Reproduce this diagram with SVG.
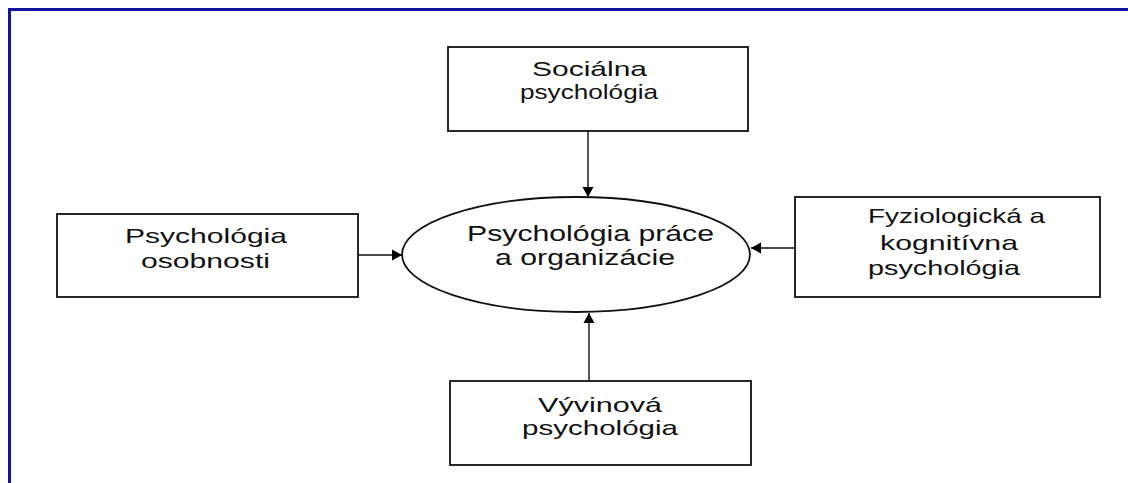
<svg xmlns="http://www.w3.org/2000/svg" width="1128" height="483" viewBox="0 0 1128 483">
<defs>
<marker id="ah" viewBox="0 0 10 14" refX="10" refY="7" markerWidth="10" markerHeight="14" markerUnits="userSpaceOnUse" orient="auto">
<path d="M0,1.5 L10,7 L0,12.5 Z" fill="#000"/>
</marker>
</defs>
<style>
.box{fill:#fff;stroke:#111;stroke-width:1.8}
.lbl{font-family:"Liberation Sans",Arial,sans-serif;font-size:21px;fill:#111}
.big{font-size:22px}
.con{stroke:#111;stroke-width:1.4;fill:none;marker-end:url(#ah)}
</style>
<rect width="1128" height="483" fill="#fff"/>
<g id="frame">
<path d="M9.5,483 V9.5 H1128" fill="none" stroke="#14149a" stroke-width="3"/>
</g>
<g id="social">
<rect class="box" x="448" y="47" width="300" height="84"/>
<text class="lbl" x="532" y="76" textLength="115" lengthAdjust="spacingAndGlyphs">Sociálna</text>
<text class="lbl" x="520" y="99" textLength="138" lengthAdjust="spacingAndGlyphs">psychológia</text>
</g>
<g id="personality">
<rect class="box" x="57" y="214" width="301" height="83"/>
<text class="lbl" x="125" y="243" textLength="162" lengthAdjust="spacingAndGlyphs">Psychológia</text>
<text class="lbl" x="141" y="268" textLength="129" lengthAdjust="spacingAndGlyphs">osobnosti</text>
</g>
<g id="center">
<ellipse class="box" cx="576" cy="254.5" rx="174" ry="57.5"/>
<text class="lbl big" x="467" y="241" textLength="247" lengthAdjust="spacingAndGlyphs">Psychológia práce</text>
<text class="lbl big" x="495" y="265" textLength="180" lengthAdjust="spacingAndGlyphs">a organizácie</text>
</g>
<g id="physio">
<rect class="box" x="795" y="197" width="305" height="100"/>
<text class="lbl" x="868" y="223" textLength="177" lengthAdjust="spacingAndGlyphs">Fyziologická a</text>
<text class="lbl" x="880" y="250" textLength="138" lengthAdjust="spacingAndGlyphs">kognitívna</text>
<text class="lbl" x="868" y="275" textLength="152" lengthAdjust="spacingAndGlyphs">psychológia</text>
</g>
<g id="develop">
<rect class="box" x="450" y="381" width="301" height="84"/>
<text class="lbl" x="538" y="412" textLength="124" lengthAdjust="spacingAndGlyphs">Vývinová</text>
<text class="lbl" x="522" y="435" textLength="156" lengthAdjust="spacingAndGlyphs">psychológia</text>
</g>
<g id="connectors">
<line class="con" x1="588" y1="131" x2="588" y2="197"/>
<line class="con" x1="358" y1="255" x2="402" y2="255"/>
<line class="con" x1="795" y1="248" x2="751" y2="248"/>
<line class="con" x1="589" y1="381" x2="589" y2="313"/>
</g>
</svg>
